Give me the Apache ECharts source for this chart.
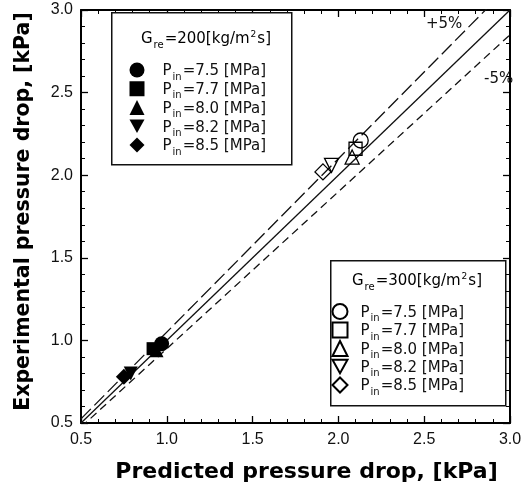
<!DOCTYPE html>
<html>
<head>
<meta charset="utf-8">
<script src="https://cdn.jsdelivr.net/npm/echarts@6/dist/echarts.min.js"></script>
<style>html,body{margin:0;padding:0;background:#fff}#c{width:529px;height:493px}</style>
</head>
<body>
<div id="c"></div>
<script>
// ---- data ----
const axisMin = 0.5, axisMax = 3.0, axisStep = 0.5;
const pressureLabels = ['7.5', '7.7', '8.0', '8.2', '8.5'];
const g200Points = [[0.97, 0.98], [0.92, 0.95], [0.94, 0.94], [0.79, 0.80], [0.75, 0.78]];
const g300Points = [[2.13, 2.21], [2.10, 2.16], [2.08, 2.11], [1.96, 2.06], [1.91, 2.02]];
const lineFactors = [1.00, 1.05, 0.95];          // y = x, +5 %, -5 %
const lineNames = ['y=x', '+5%', '-5%'];

const symbols = ['circle', 'rect', 'triangle', 'path://M0,0L10,0L5,9Z', 'diamond'];
const symSizes = [15, 13, 14, 14, 16];

const FONT = 'Liberation Sans';
const LFONT = 'DejaVu Sans';
const rich = {
  n: {fontFamily: LFONT, fontSize: 15, color: '#111', verticalAlign: 'top', lineHeight: 16, padding: [2, 0, 0, 0]},
  s: {fontFamily: LFONT, fontSize: 10, color: '#111', verticalAlign: 'top', lineHeight: 10, padding: [10, 1, 0, 1]},
  u: {fontFamily: LFONT, fontSize: 9, color: '#111', verticalAlign: 'top', lineHeight: 9, padding: [0, 1, 0, 1]}
};

const chart = echarts.init(document.getElementById('c'), null, {renderer: 'canvas'});

const series = [];
const dashes = ['solid', [14, 5], [8, 5]];
lineFactors.forEach((f, i) => {
  series.push({
    name: lineNames[i], type: 'line', silent: true, symbol: 'none',
    data: [[axisMin, axisMin * f], [axisMax, axisMax * f]],
    lineStyle: {color: '#111', width: 1.3, type: dashes[i]},
    clip: true, z: 1
  });
});
const labelMap = {};
pressureLabels.forEach((p, i) => {
  const n1 = 'Gre200 Pin=' + p;
  labelMap[n1] = p;
  series.push({
    name: n1, type: 'scatter', symbol: symbols[i], symbolSize: symSizes[i],
    data: [g200Points[i]],
    itemStyle: {color: '#000', borderColor: '#000', borderWidth: 0, opacity: 1}, z: 3
  });
});
pressureLabels.forEach((p, i) => {
  const n2 = 'Gre300 Pin=' + p;
  labelMap[n2] = p;
  series.push({
    name: n2, type: 'scatter', symbol: symbols[i], symbolSize: symSizes[i],
    data: [g300Points[i]],
    itemStyle: {color: 'rgba(0,0,0,0)', borderColor: '#000', borderWidth: 1.3, opacity: 1}, z: 3
  });
});

const fmt = name => '{n|P}{s|in}{n|=' + labelMap[name] + ' [MPa]}';

const axisCommon = {
  type: 'value', min: axisMin, max: axisMax, interval: axisStep,
  axisLine: {show: true, lineStyle: {color: '#000', width: 2}},
  axisTick: {show: true, inside: true, length: 7, lineStyle: {color: '#000', width: 1.3}},
  minorTick: {show: true, splitNumber: 5, length: 4, lineStyle: {color: '#000', width: 1}},
  splitLine: {show: false}
};

chart.setOption({
  animation: false,
  backgroundColor: '#fff',
  grid: {left: 81, right: 19, top: 10, bottom: 70},
  xAxis: [
    Object.assign({}, axisCommon, {
      position: 'bottom',
      name: 'Predicted pressure drop, [kPa]', nameLocation: 'middle', nameGap: 38,
      nameTextStyle: {fontFamily: 'DejaVu Sans', fontWeight: 'bold', fontSize: 22, color: '#000', padding: [0, 0, 0, 22]},
      axisLabel: {fontFamily: FONT, fontSize: 16, color: '#111', margin: 9, formatter: v => v.toFixed(1)}
    }),
    Object.assign({}, axisCommon, {position: 'top', axisLabel: {show: false}})
  ],
  yAxis: [
    Object.assign({}, axisCommon, {
      position: 'left',
      name: 'Experimental pressure drop, [kPa]', nameLocation: 'middle', nameGap: 47,
      nameTextStyle: {fontFamily: 'DejaVu Sans', fontWeight: 'bold', fontSize: 20.5, color: '#000', padding: [0, 0, 0, 10]},
      axisLabel: {fontFamily: FONT, fontSize: 16, color: '#111', margin: 8, formatter: v => v.toFixed(1)}
    }),
    Object.assign({}, axisCommon, {position: 'right', axisLabel: {show: false}})
  ],
  legend: [
    {
      orient: 'vertical', left: 124.5, top: 57, itemWidth: 15, itemHeight: 15, itemGap: -1.25,
      selectedMode: false, z: 20,
      data: pressureLabels.map(p => 'Gre200 Pin=' + p),
      formatter: fmt, textStyle: {rich: rich, padding: [0, 0, 0, 13]}
    },
    {
      orient: 'vertical', left: 326.5, top: 298, itemWidth: 15, itemHeight: 15, itemGap: -2,
      selectedMode: false, z: 20,
      data: pressureLabels.map(p => 'Gre300 Pin=' + p),
      formatter: fmt, textStyle: {rich: rich, padding: [0, 0, 0, 8]}
    }
  ],
  graphic: [
    {type: 'rect', left: 111, top: 12, shape: {width: 180, height: 152},
     style: {fill: '#fff', stroke: '#111', lineWidth: 1.5}, z: 2},
    {type: 'text', top: 30, left: 141, z: 21,
     style: {text: '{n|G}{s|re}{n|=200[kg/m}{u|2}{n|s]}', rich: rich}},
    {type: 'rect', left: 330, top: 260, shape: {width: 175, height: 145},
     style: {fill: '#fff', stroke: '#111', lineWidth: 1.5}, z: 2},
    {type: 'text', top: 272, left: 352, z: 21,
     style: {text: '{n|G}{s|re}{n|=300[kg/m}{u|2}{n|s]}', rich: rich}},
    {type: 'text', left: 426, top: 17, z: 21,
     style: {text: '+5%', fontFamily: LFONT, fontSize: 15, fill: '#111'}},
    {type: 'text', left: 484, top: 72, z: 21,
     style: {text: '-5%', fontFamily: LFONT, fontSize: 15, fill: '#111'}}
  ],
  series: series
});
</script>
</body>
</html>
